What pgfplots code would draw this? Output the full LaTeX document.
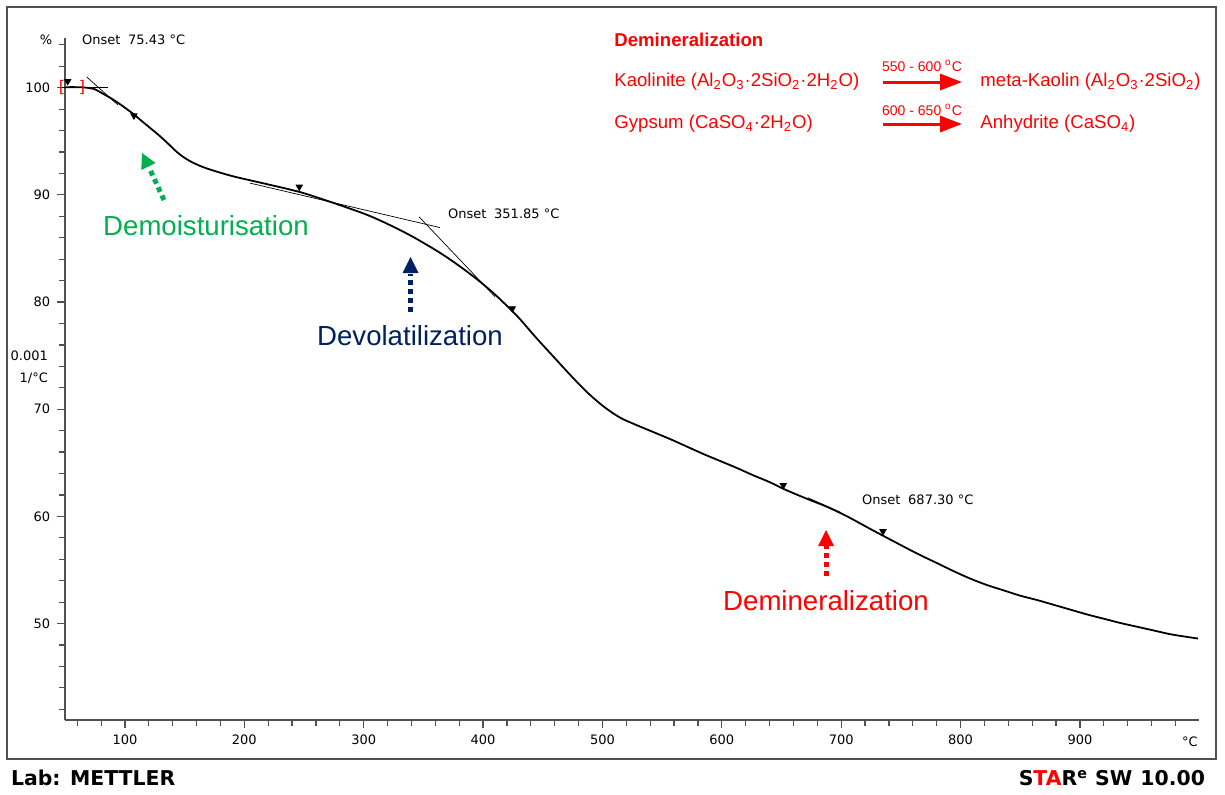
\documentclass[border=0pt]{standalone}
\usepackage{pgfplots}
\pgfplotsset{compat=1.18}
\usepackage{fontspec}
\setmainfont{Liberation Sans}
\newfontfamily\tah{DejaVu Sans}
\usetikzlibrary{arrows.meta}
\definecolor{mgreen}{HTML}{00B050}
\definecolor{mnavy}{HTML}{002060}
\definecolor{axgray}{HTML}{505050}
\newcommand{\tk}{\tah\fontsize{6.5}{7.5}\selectfont}
\begin{document}
\begin{tikzpicture}[x=0.5pt,y=-0.5pt]
\path (0,0) rectangle (1225,794);
\draw[axgray, line width=0.8pt] (7,7) rectangle (1216,759);
\begin{axis}[
  at={(32.65pt,-360pt)}, anchor=south west,
  scale only axis, width=567pt, height=340.8pt,
  xmin=50, xmax=1000, ymin=41, ymax=104.6,
  axis x line=bottom, axis y line=left,
  axis line style={-, axgray, line width=0.8pt},
  tick align=outside, major tick length=4pt, minor tick length=3pt,
  every tick/.style={axgray, line width=0.6pt},
  xtick={100,200,...,900}, minor xtick={60,80,...,980},
  ytick={50,60,...,100}, minor ytick={42,44,...,104},
  ticklabel style={font=\tk},
  /pgf/number format/assume math mode=true,
  clip=false,
]
\addplot[black, line width=0.9pt, smooth] coordinates {
(50,100.05) (60,100.05) (68,100.0) (75,99.85) (79,99.6) (87,99.1) (96,98.45)
(107,97.55) (115,96.8) (127,95.7) (135,94.9) (143,94.05) (150,93.45) (158,92.95)
(169,92.45) (190,91.75) (219,91.0) (247,90.25) (272,89.35) (299,88.3) (314,87.6)
(328,86.85) (341,86.1) (358,85.0) (370,84.15) (384,83.05) (398,81.85) (411,80.6)
(425,79.1) (431,78.4) (445,76.6) (459,74.9) (473,73.2) (487,71.6) (501,70.25)
(515,69.2) (529,68.5) (543,67.85) (557,67.2) (571,66.5) (585,65.8) (599,65.15)
(613,64.5) (626,63.85) (640,63.2) (652,62.55) (670,61.7) (688,60.9) (705,60.0)
(724,58.85) (735,58.2) (752,57.2) (766,56.4) (781,55.6) (794,54.9) (808,54.2)
(822,53.6) (836,53.1) (850,52.6) (864,52.2) (878,51.75) (892,51.3) (906,50.85)
(920,50.45) (934,50.05) (948,49.7) (962,49.35) (976,49.0) (990,48.75) (999,48.6)
};
% tangent lines
\addplot[black, line width=0.35pt] coordinates {(47.2,100.05) (86,100.05)};
\addplot[black, line width=0.35pt] coordinates {(68,101.0) (94,98.4)};
\addplot[black, line width=0.35pt] coordinates {(204.7,91.1) (363.8,86.95)};
\addplot[black, line width=0.35pt] coordinates {(346.4,87.95) (410,80.5)};
\addplot[black, line width=0.35pt] coordinates {(672,61.75) (700,60.35)};
% flags
\addplot[only marks, mark=triangle*, mark size=1.8pt, mark options={rotate=180, fill=black}, black] coordinates {
(52,100.6) (107.5,97.4) (246,90.75) (424.5,79.4) (651.5,62.9) (735,58.6)};
\node[red, font=\tah\fontsize{8}{9}\selectfont] at (axis cs:47.2,100.05) {[};
\node[red, font=\tah\fontsize{8}{9}\selectfont] at (axis cs:64,100.05) {]};
\end{axis}
% axis texts
\node[font=\tk] at (46,40) {\%};
\node[font=\tk, anchor=west] at (75,40) {Onset\hspace{0.6em}75.43 °C};
\node[font=\tk, anchor=west] at (441,214) {Onset\hspace{0.6em}351.85 °C};
\node[font=\tk, anchor=west] at (855,500) {Onset\hspace{0.6em}687.30 °C};
\node[font=\tk, anchor=east] at (55,356) {0.001};
\node[font=\tk, anchor=east] at (55,378) {1/°C};
\node[font=\tk] at (1190,742) {°C};
% annotations
\node[mgreen, font=\fontsize{13.8}{16}\selectfont] at (206,226) {Demoisturisation};
\node[mnavy, font=\fontsize{13.8}{16}\selectfont] at (410,336) {Devolatilization};
\node[red, font=\fontsize{13.8}{16}\selectfont] at (826,601) {Demineralization};
% dotted arrows
\draw[mgreen, line width=2.5pt, dash pattern=on 2.5pt off 2pt] (164,200)--(149.5,168.5);
\fill[mgreen] (142,153)--(155.7,163)--(141.3,170)--cycle;
\draw[mnavy, line width=2.5pt, dash pattern=on 2.5pt off 2pt] (410.5,312)--(410.5,274);
\fill[mnavy] (410.5,257)--(402.5,273)--(418.5,273)--cycle;
\draw[red, line width=2.5pt, dash pattern=on 2.5pt off 2pt] (826,576)--(826,546);
\fill[red] (826,530)--(818,546)--(834,546)--cycle;
% reaction block
\begin{scope}[red, every node/.style={font=\fontsize{9.3}{11}\selectfont, inner sep=0pt}]
\node[anchor=west, font=\bfseries\fontsize{9.3}{11}\selectfont] at (614,40) {Demineralization};
\node[anchor=west] at (614,82) {Kaolinite (Al\textsubscript{2}O\textsubscript{3}·2SiO\textsubscript{2}·2H\textsubscript{2}O)};
\node[anchor=west] at (980,82) {meta-Kaolin (Al\textsubscript{2}O\textsubscript{3}·2SiO\textsubscript{2})};
\node[anchor=west] at (614,124) {Gypsum (CaSO\textsubscript{4}·2H\textsubscript{2}O)};
\node[anchor=west] at (980,124) {Anhydrite (CaSO\textsubscript{4})};
\node[font=\fontsize{7}{8}\selectfont] at (922,66) {550 - 600 \textsuperscript{o}C};
\node[font=\fontsize{7}{8}\selectfont] at (922,110) {600 - 650 \textsuperscript{o}C};
\draw[line width=1.5pt, -{Triangle[length=11pt,width=8pt]}] (883,82)--(962,82);
\draw[line width=1.5pt, -{Triangle[length=11pt,width=8pt]}] (883,124)--(962,124);
\end{scope}
% footer
\node[anchor=west, font=\tah\bfseries\fontsize{10.2}{12}\selectfont] at (4,778) {Lab: METTLER};
\node[anchor=east, font=\tah\bfseries\fontsize{10.2}{12}\selectfont] at (1212,778) {S\textcolor{red}{TA}R\textsuperscript{e} SW\hspace{0.4em}10.00};
\end{tikzpicture}
\end{document}
